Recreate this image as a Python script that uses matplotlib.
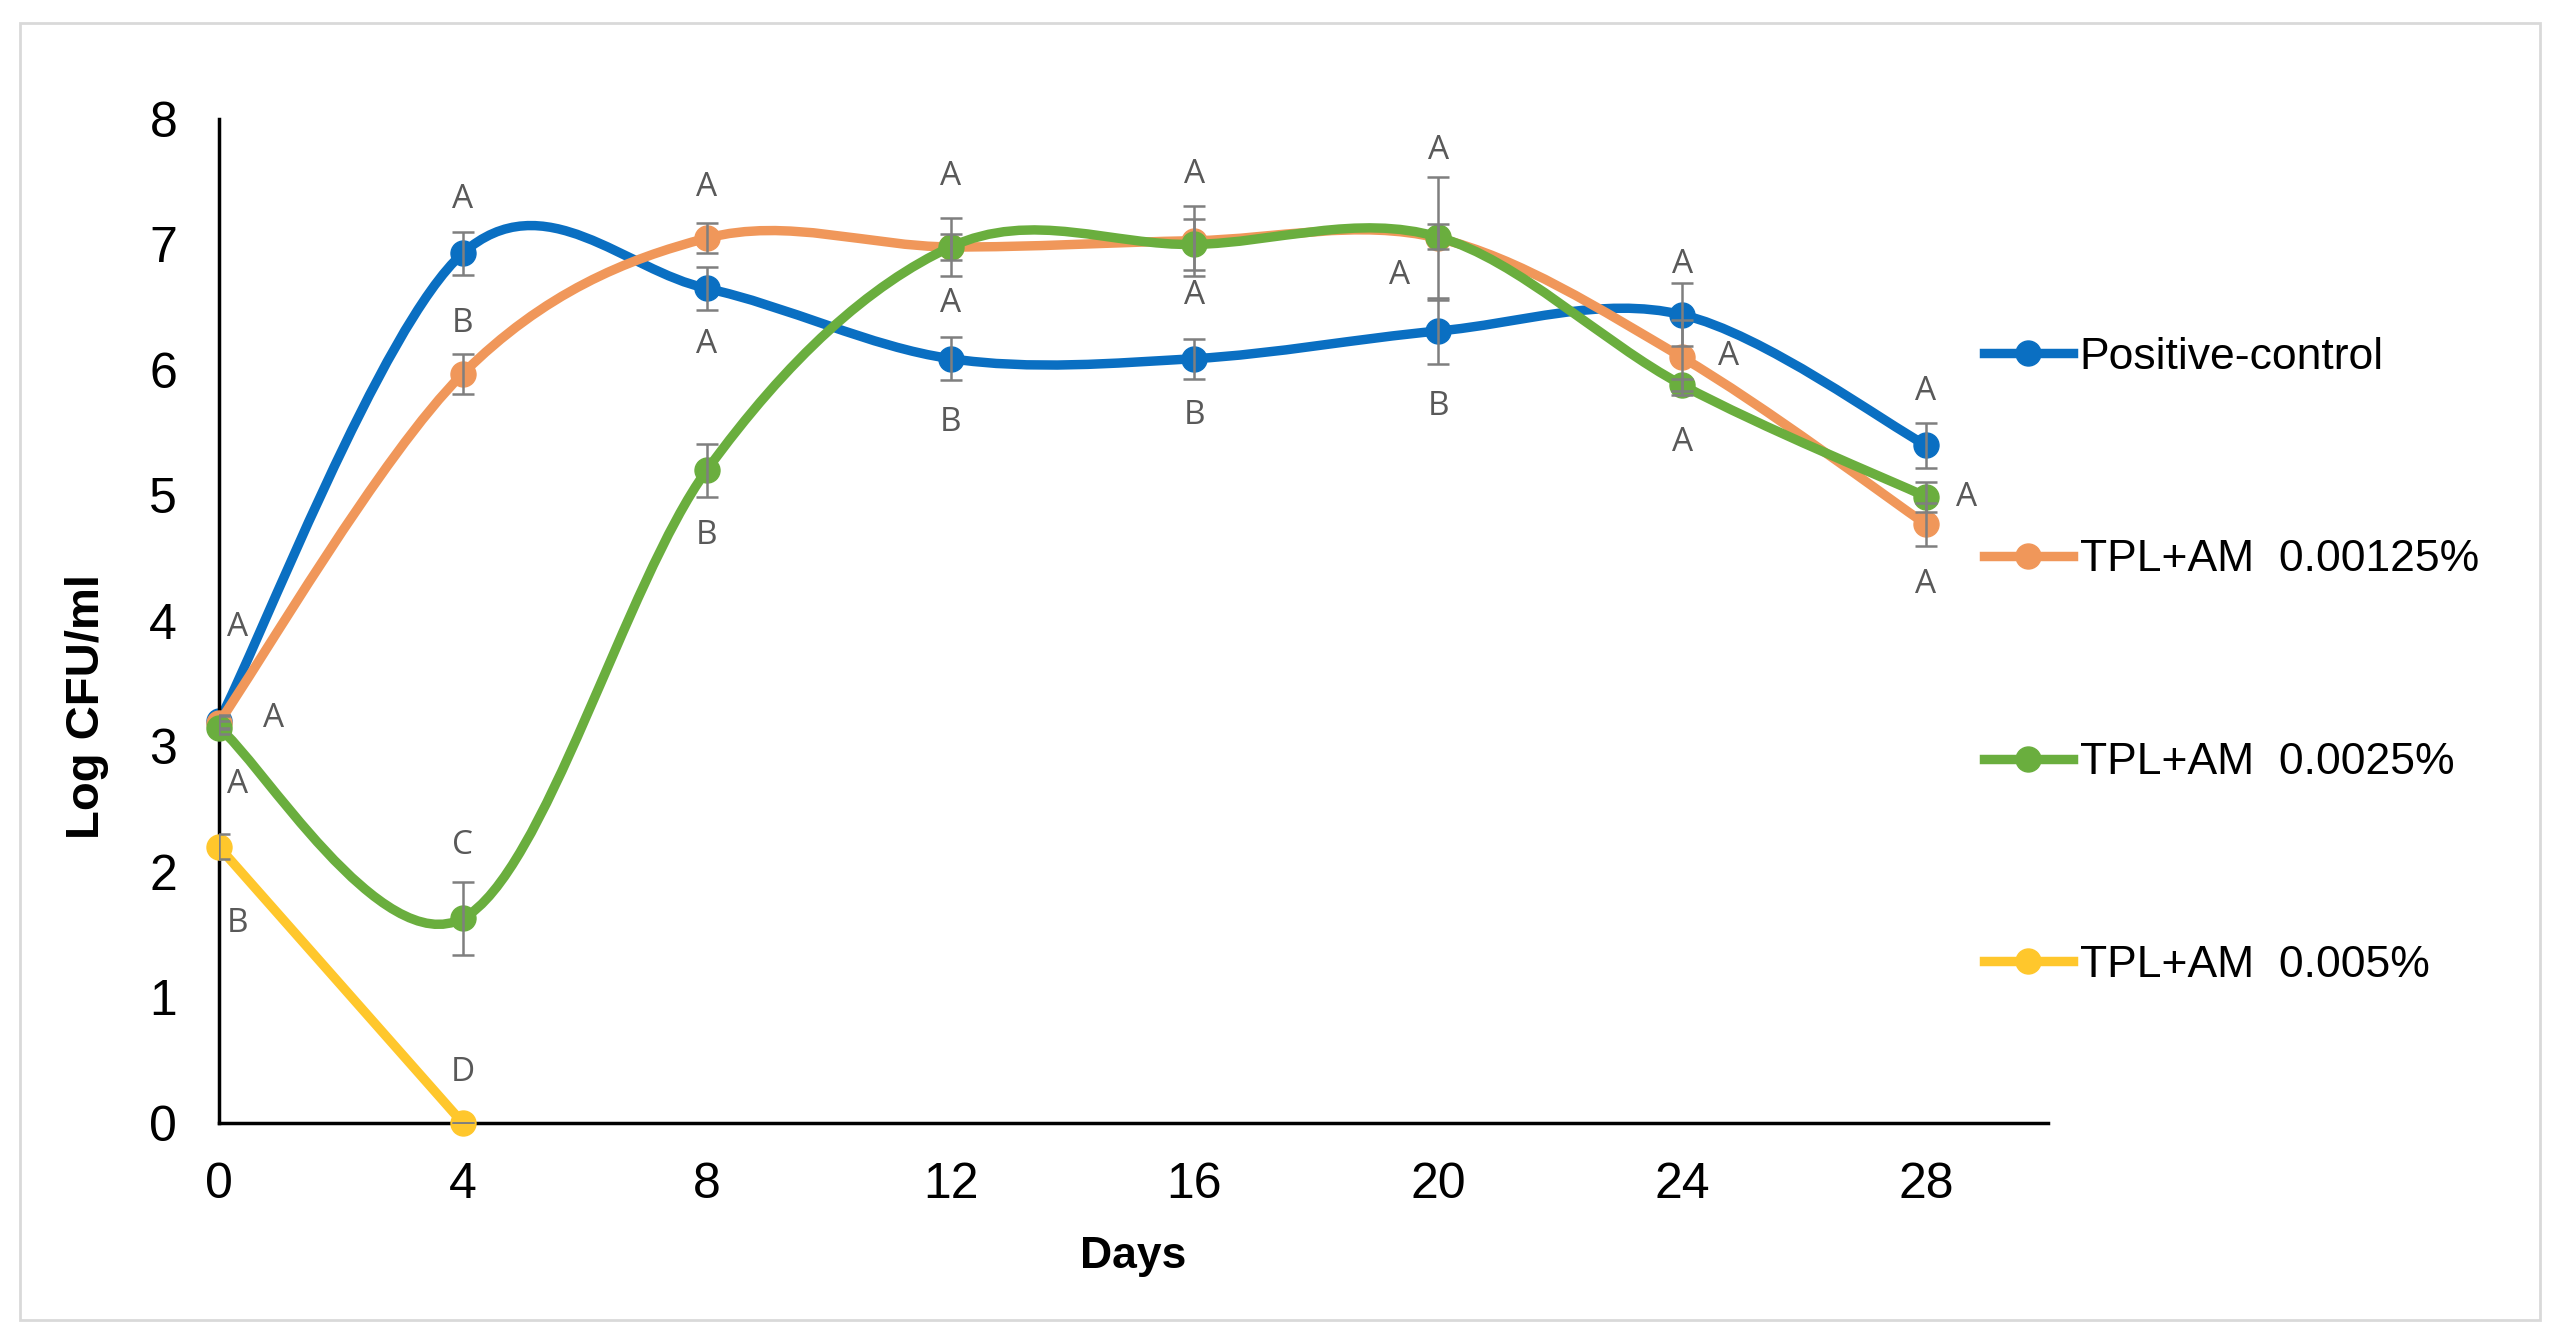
import matplotlib
matplotlib.use("Agg")
import matplotlib.pyplot as plt
import numpy as np
from matplotlib.path import Path
from matplotlib.patches import PathPatch, Rectangle
from matplotlib.lines import Line2D

DAYS = [0, 4, 8, 12, 16, 20, 24, 28]

POS_CONTROL = [3.20, 6.93, 6.65, 6.09, 6.09, 6.31, 6.44, 5.40]
POS_CONTROL_ERR = [0.05, 0.17, 0.17, 0.17, 0.16, 0.26, 0.25, 0.18]

TPL_00125 = [3.19, 5.97, 7.05, 6.98, 7.03, 7.05, 6.10, 4.77]
TPL_00125_ERR = [0.05, 0.16, 0.12, 0.23, 0.28, 0.49, 0.30, 0.17]

TPL_0025 = [3.15, 1.63, 5.20, 6.98, 7.00, 7.06, 5.88, 4.99]
TPL_0025_ERR = [0.05, 0.29, 0.21, 0.10, 0.20, 0.10, 0.05, 0.12]

DAYS_005 = [0, 4]
TPL_005 = [2.20, 0.0]
TPL_005_ERR = [0.10, 0.0]

LABELS = ["Positive-control", "TPL+AM  0.00125%", "TPL+AM  0.0025%", "TPL+AM  0.005%"]
COLORS = ["#0A6FC2", "#F0975A", "#6AAE3E", "#FFC72C"]

# significance letters: (day, log value, letter)
LETTER_X = [0.3, 0.9, 0.3, 0.3,
            4, 4, 4, 4,
            8, 8, 8,
            12, 12, 12,
            16, 16, 16,
            20, 19.36, 20,
            24, 24.76, 24,
            28, 28.66, 28]
LETTER_Y = [3.95, 3.22, 2.70, 1.59,
            7.36, 6.37, 2.21, 0.40,
            7.45, 6.20, 4.68,
            7.54, 6.53, 5.58,
            7.56, 6.59, 5.64,
            7.75, 6.75, 5.71,
            6.84, 6.11, 5.42,
            5.83, 4.98, 4.29]
LETTER_TXT = ["A", "A", "A", "B",
              "A", "B", "C", "D",
              "A", "A", "B",
              "A", "A", "B",
              "A", "A", "B",
              "A", "A", "B",
              "A", "A", "A",
              "A", "A", "A"]

SAVE_PLOT_PATH = "out.png"
# ==================================================================


def smooth_path(x, y):
    # excel-like smoothed line: cubic bezier through points (catmull-rom tangents)
    x = np.asarray(x, float)
    y = np.asarray(y, float)
    pts = np.column_stack([x, y])
    n = len(pts)
    verts = [pts[0]]
    codes = [Path.MOVETO]
    for i in range(n - 1):
        p_prev = pts[i - 1] if i > 0 else pts[i]
        p_next = pts[i + 2] if i + 2 < n else pts[i + 1]
        c1 = pts[i] + (pts[i + 1] - p_prev) / 6.0
        c2 = pts[i + 1] - (p_next - pts[i]) / 6.0
        verts += [c1, c2, pts[i + 1]]
        codes += [Path.CURVE4] * 3
    return Path(verts, codes)


def main():
    plt.rcParams["font.family"] = ["Liberation Sans", "DejaVu Sans"]

    fig = plt.figure(figsize=(25.6, 13.41), dpi=100)
    fig.patches.append(Rectangle((0.008, 0.016), 0.984, 0.967, transform=fig.transFigure,
                                 fill=False, edgecolor="#D9D9D9", linewidth=2))
    ax = fig.add_axes([0.0855, 0.1626, 0.7145, 0.7487])

    series = [
        (DAYS, POS_CONTROL, POS_CONTROL_ERR),
        (DAYS, TPL_00125, TPL_00125_ERR),
        (DAYS, TPL_0025, TPL_0025_ERR),
        (DAYS_005, TPL_005, TPL_005_ERR),
    ]

    for i, (xs, ys, errs) in enumerate(series):
        patch = PathPatch(smooth_path(xs, ys), facecolor="none", edgecolor=COLORS[i],
                          linewidth=6.8, capstyle="round", joinstyle="round", zorder=2 + i)
        ax.add_patch(patch)
        ax.errorbar(xs, ys, yerr=errs, fmt="none", ecolor="#7F7F7F", elinewidth=1.8,
                    capsize=8, capthick=1.8, zorder=6 + i)
        ax.plot(xs, ys, "o", color=COLORS[i], markersize=18, zorder=2.5 + i, clip_on=False)

    for lx, ly, lt in zip(LETTER_X, LETTER_Y, LETTER_TXT):
        ax.text(lx, ly, lt, ha="center", va="center", fontsize=24, color="#595959",
                family=["Open Sans", "DejaVu Sans"])

    ax.set_xlim(0, 30)
    ax.set_ylim(0, 8)
    ax.set_xticks(DAYS)
    ax.set_yticks(range(0, 9))
    ax.tick_params(axis="both", length=0, labelsize=36)
    ax.tick_params(axis="y", pad=30)
    ax.tick_params(axis="x", pad=28)
    for side in ["top", "right"]:
        ax.spines[side].set_visible(False)
    for side in ["left", "bottom"]:
        ax.spines[side].set_linewidth(2.5)
        ax.spines[side].set_color("black")

    ax.set_xlabel("Days", fontsize=32, fontweight="bold")
    ax.set_ylabel("Log CFU/ml", fontsize=34, fontweight="bold")
    ax.xaxis.set_label_coords(0.5, -0.113)
    ax.yaxis.set_label_coords(-0.060, 0.415)

    handles = [Line2D([], [], color=c, linewidth=6.8, marker="o", markersize=18) for c in COLORS]
    ax.legend(handles, LABELS, loc="upper left", bbox_to_anchor=(0.775, 0.749),
              bbox_transform=fig.transFigure, frameon=False, fontsize=32,
              handlelength=2.0, handletextpad=0.15, labelspacing=3.64,
              borderpad=0, borderaxespad=0)

    plt.savefig(SAVE_PLOT_PATH, dpi=100)
    print("Done")


if __name__ == "__main__":
    main()
